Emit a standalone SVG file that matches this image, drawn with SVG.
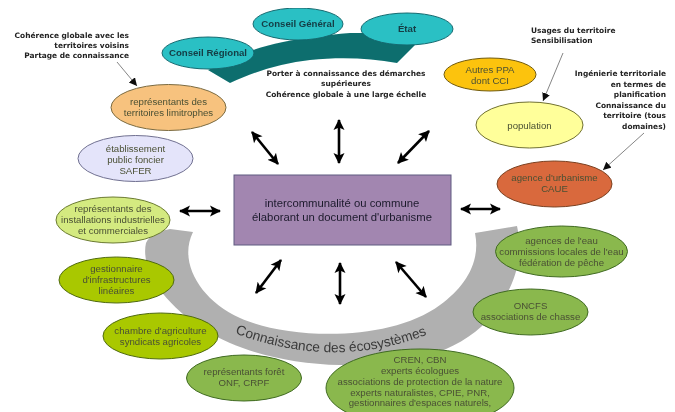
<svg xmlns="http://www.w3.org/2000/svg" width="675" height="412" viewBox="0 0 675 412">
<style>
text{font-family:"Liberation Sans",Arial,sans-serif;text-anchor:middle}
.n text{font-size:9.65px;fill:#4a5034}
.n .b{font-weight:bold;fill:#143c44;font-size:9.65px}
ellipse{stroke-width:1}
.note{font-size:7.45px;font-weight:bold;fill:#222;font-family:"DejaVu Sans",sans-serif}
.r{text-anchor:end}.l{text-anchor:start}
.thick{stroke:#000;stroke-width:2.6;fill:none;marker-start:url(#tS);marker-end:url(#tE)}
.thin{stroke:#666;stroke-width:.8;fill:none;marker-end:url(#aT)}
</style>
<defs>
<filter id="soft" x="0" y="0" width="100%" height="100%"><feGaussianBlur stdDeviation="0.3"/></filter>
<marker id="tE" markerUnits="userSpaceOnUse" markerWidth="12" markerHeight="12" refX="10" refY="6" orient="auto"><path d="M0 .5L11 6L0 11.500L2.500 6Z" fill="#000"/></marker>
<marker id="tS" markerUnits="userSpaceOnUse" markerWidth="12" markerHeight="12" refX="1" refY="6" orient="auto"><path d="M11 .5L0 6L11 11.500L8.500 6Z" fill="#000"/></marker>
<marker id="aT" markerUnits="userSpaceOnUse" markerWidth="10" markerHeight="10" refX="8" refY="4" orient="auto"><path d="M0 0L8 4L0 8Z" fill="#111"/></marker>
<path id="cv" d="M215 325Q335 379 447 326"/>
</defs>
<rect width="675" height="412" fill="#fff"/>
<g filter="url(#soft)">
<g id="bands">
<path d="M170 229L193 232C178 262 200 300 240 318C290 340 390 342 440 305C465 287 481 262 475 233L517 226C525 262 512 297 482 326C445 360 390 366 340 365C290 364 240 352 205 330C165 305 140 270 146 243C149 236 158 231 170 229Z" fill="#b0b0b0"/>
<text style="font-size:13.700px;fill:#3a3a3a"><textPath href="#cv" startOffset="50%">Connaissance des écosystèmes</textPath></text>
<path d="M208 70L230 83C255 71 283 63 310 60C340 57 370 58 397 63L415 45L398 33L350 33C325 35 303 38 283 42C272 44 262 47 253 50Z" fill="#0a6e6e"/>
</g>
<g id="connectors">
<path class="thick" d="M252 132L278 164"/>
<path class="thick" d="M339 120V163"/>
<path class="thick" d="M429 131L398 163"/>
<path class="thick" d="M180 211H220"/>
<path class="thick" d="M461 209H500"/>
<path class="thick" d="M281 260L256 293"/>
<path class="thick" d="M340 263V304"/>
<path class="thick" d="M396 262L426 297"/>
<path class="thin" d="M117 62L137 86"/>
<path class="thin" d="M563 53L543 101"/>
<path class="thin" d="M644 133L603 170"/>
</g>
<g id="central"><rect x="234" y="175" width="217" height="70" fill="#a286b0" stroke="#5f5a80"/>
<text x="342" y="207" style="font-size:11.3px;fill:#1c1a2c">intercommunalité ou commune</text>
<text x="342" y="221" style="font-size:11.3px;fill:#1c1a2c">élaborant un document d'urbanisme</text></g>
<g class="n">
<g id="conseil-regional"><ellipse cx="208" cy="53" rx="46" ry="16" fill="#2bc0c4" stroke="#146a70"/><text class="b" x="208" y="56">Conseil Régional</text></g>
<g id="conseil-general"><ellipse cx="298" cy="24" rx="45" ry="16" fill="#2bc0c4" stroke="#146a70"/><text class="b" x="298" y="27">Conseil Général</text></g>
<g id="etat"><ellipse cx="407" cy="29" rx="46" ry="16" fill="#2bc0c4" stroke="#146a70"/><text class="b" x="407" y="32">État</text></g>
<g id="limitrophes"><ellipse cx="168.500" cy="107.500" rx="57.500" ry="23" fill="#f7c27e" stroke="#7a6a40"/><text x="168.500" y="105">représentants des</text><text x="168.500" y="116">territoires limitrophes</text></g>
<g id="epf"><ellipse cx="135.500" cy="158.500" rx="57.500" ry="23" fill="#e4e4fa" stroke="#707090"/><text x="135.500" y="152">établissement</text><text x="135.500" y="163">public foncier</text><text x="135.500" y="174">SAFER</text></g>
<g id="industrie"><ellipse cx="113" cy="220" rx="57" ry="23" fill="#d4ea80" stroke="#6a7a30"/><text x="113" y="212">représentants des</text><text x="113" y="223">installations industrielles</text><text x="113" y="234">et commerciales</text></g>
<g id="infra"><ellipse cx="116.500" cy="280" rx="57.500" ry="23" fill="#a9c800" stroke="#4f6a10"/><text x="116.500" y="272">gestionnaire</text><text x="116.500" y="283">d'infrastructures</text><text x="116.500" y="294">linéaires</text></g>
<g id="agri"><ellipse cx="160.500" cy="336" rx="57.500" ry="23" fill="#a9c800" stroke="#4f6a10"/><text x="160.500" y="334">chambre d'agriculture</text><text x="160.500" y="345">syndicats agricoles</text></g>
<g id="foret"><ellipse cx="244" cy="378" rx="57.500" ry="23" fill="#8ab84e" stroke="#3f6a20"/><text x="244" y="375">représentants forêt</text><text x="244" y="386">ONF, CRPF</text></g>
<g id="cren"><ellipse cx="420" cy="388" rx="94" ry="39" fill="#8ab84e" stroke="#3f6a20"/><text x="420" y="363">CREN, CBN</text><text x="420" y="374">experts écologues</text><text x="420" y="384.500">associations de protection de la nature</text><text x="420" y="395.500">experts naturalistes, CPIE, PNR,</text><text x="420" y="406">gestionnaires d'espaces naturels,</text></g>
<g id="oncfs"><ellipse cx="530.500" cy="312" rx="57.500" ry="23" fill="#8ab84e" stroke="#3f6a20"/><text x="530.500" y="309">ONCFS</text><text x="530.500" y="320">associations de chasse</text></g>
<g id="eau"><ellipse cx="561.500" cy="251.500" rx="66" ry="25.500" fill="#8ab84e" stroke="#3f6a20"/><text x="561.500" y="244">agences de l'eau</text><text x="561.500" y="255">commissions locales de l'eau</text><text x="561.500" y="266">fédération de pêche</text></g>
<g id="caue"><ellipse cx="554.500" cy="184" rx="57.500" ry="23" fill="#d9693c" stroke="#7a4020"/><text x="554.500" y="181">agence d'urbanisme</text><text x="554.500" y="192">CAUE</text></g>
<g id="population"><ellipse cx="529.500" cy="125" rx="53.500" ry="23" fill="#ffff9a" stroke="#707030"/><text x="529.500" y="129">population</text></g>
<g id="ppa"><ellipse cx="490" cy="74.500" rx="46" ry="16.500" fill="#fcc30f" stroke="#705a10"/><text x="490" y="73">Autres PPA</text><text x="490" y="84">dont CCI</text></g>
</g>
<g id="notes">
<text class="note r" x="129" y="38">Cohérence globale avec les</text>
<text class="note r" x="129" y="48">territoires voisins</text>
<text class="note r" x="129" y="58">Partage de connaissance</text>
<text class="note" x="346" y="76">Porter à connaissance des démarches</text>
<text class="note" x="346" y="86">supérieures</text>
<text class="note" x="346" y="97">Cohérence globale à une large échelle</text>
<text class="note l" x="531" y="33">Usages du territoire</text>
<text class="note l" x="531" y="43">Sensibilisation</text>
<text class="note r" x="666" y="76">Ingénierie territoriale</text>
<text class="note r" x="666" y="87">en termes de</text>
<text class="note r" x="666" y="97">planification</text>
<text class="note r" x="666" y="108">Connaissance du</text>
<text class="note r" x="666" y="118">territoire (tous</text>
<text class="note r" x="666" y="129">domaines)</text>
</g>
</g>
</svg>
